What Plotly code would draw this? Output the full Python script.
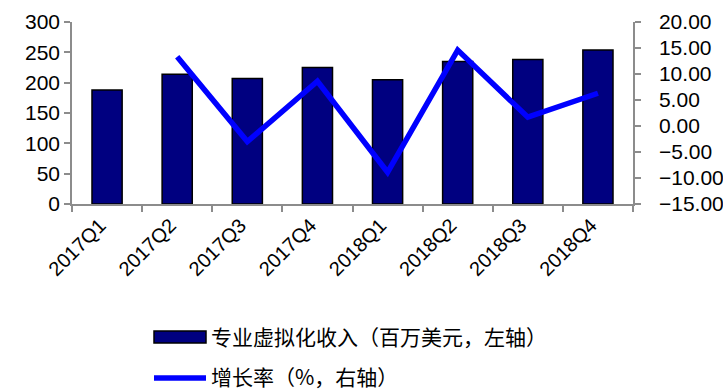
import plotly.graph_objects as go

quarters = ["2017Q1", "2017Q2", "2017Q3", "2017Q4", "2018Q1", "2018Q2", "2018Q3", "2018Q4"]
revenue = [188, 214, 207, 225, 205, 235, 238, 254]          # 专业虚拟化收入（百万美元）
growth = [None, 13.3, -3.0, 8.6, -8.9, 14.6, 1.7, 6.3]       # 增长率（%）

left_ticks = [0, 50, 100, 150, 200, 250, 300]
right_ticks = [-15, -10, -5, 0, 5, 10, 15, 20]

bar_name = "专业虚拟化收入（百万美元，左轴）"
line_name = "增长率（%，右轴）"

axis_color = "#8c8c8c"
tick_font = dict(family="Liberation Sans, Arial, sans-serif", size=21, color="#000000")
cjk_font = dict(family="Noto Sans CJK SC, sans-serif", size=21, color="#000000")

fig = go.Figure()
fig.add_trace(go.Bar(
    x=quarters, y=revenue, name=bar_name,
    marker=dict(color="#000080", line=dict(color="#000000", width=1.5)),
    width=0.43, yaxis="y", showlegend=False,
))
fig.add_trace(go.Scatter(
    x=quarters, y=growth, name=line_name, mode="lines",
    line=dict(color="#0000ff", width=5.5), yaxis="y2",
    connectgaps=False, showlegend=False,
))

fig.update_layout(
    width=723, height=390,
    margin=dict(l=72, r=90, t=22, b=186),
    paper_bgcolor="#ffffff", plot_bgcolor="#ffffff",
    xaxis=dict(
        type="category", tickangle=-45, tickfont=dict(tick_font, size=20),
        ticklabelshift=-7, automargin=False,
        showline=True, linecolor=axis_color, linewidth=1.5,
        ticks="outside", tickson="boundaries", ticklen=6, tickcolor=axis_color, tickwidth=1.5,
        showgrid=False, zeroline=False,
    ),
    yaxis=dict(
        range=[0, 300], tickvals=left_ticks, tickfont=tick_font, automargin=False,
        showline=True, linecolor=axis_color, linewidth=1.5,
        ticks="outside", ticklen=6, tickcolor=axis_color, tickwidth=1.5,
        showgrid=False, zeroline=False,
    ),
    yaxis2=dict(
        range=[-15, 20], tickvals=right_ticks, tickformat=".2f", tickfont=tick_font,
        overlaying="y", side="right", ticklabelstandoff=14, automargin=False,
        showline=True, linecolor=axis_color, linewidth=1.5,
        ticks="outside", ticklen=6, tickcolor=axis_color, tickwidth=1.5,
        showgrid=False, zeroline=False,
    ),
)

# Legend drawn below the chart: swatches plus labels
px_x = lambda v: (v - 72) / 561
px_y = lambda v: (204 - v) / 182

fig.add_shape(type="rect", xref="paper", yref="paper",
              x0=px_x(154), x1=px_x(206), y0=px_y(343), y1=px_y(331),
              fillcolor="#000080", line=dict(color="#000000", width=1.5))
fig.add_annotation(text=bar_name, xref="paper", yref="paper",
                   x=px_x(209), y=px_y(336),
                   xanchor="left", yanchor="middle", showarrow=False, font=cjk_font)
fig.add_shape(type="line", xref="paper", yref="paper",
              x0=px_x(154), x1=px_x(206), y0=px_y(378), y1=px_y(378),
              line=dict(color="#0000ff", width=5.5))
fig.add_annotation(text=line_name, xref="paper", yref="paper",
                   x=px_x(209), y=px_y(376),
                   xanchor="left", yanchor="middle", showarrow=False, font=cjk_font)

fig.write_html("out.html")
